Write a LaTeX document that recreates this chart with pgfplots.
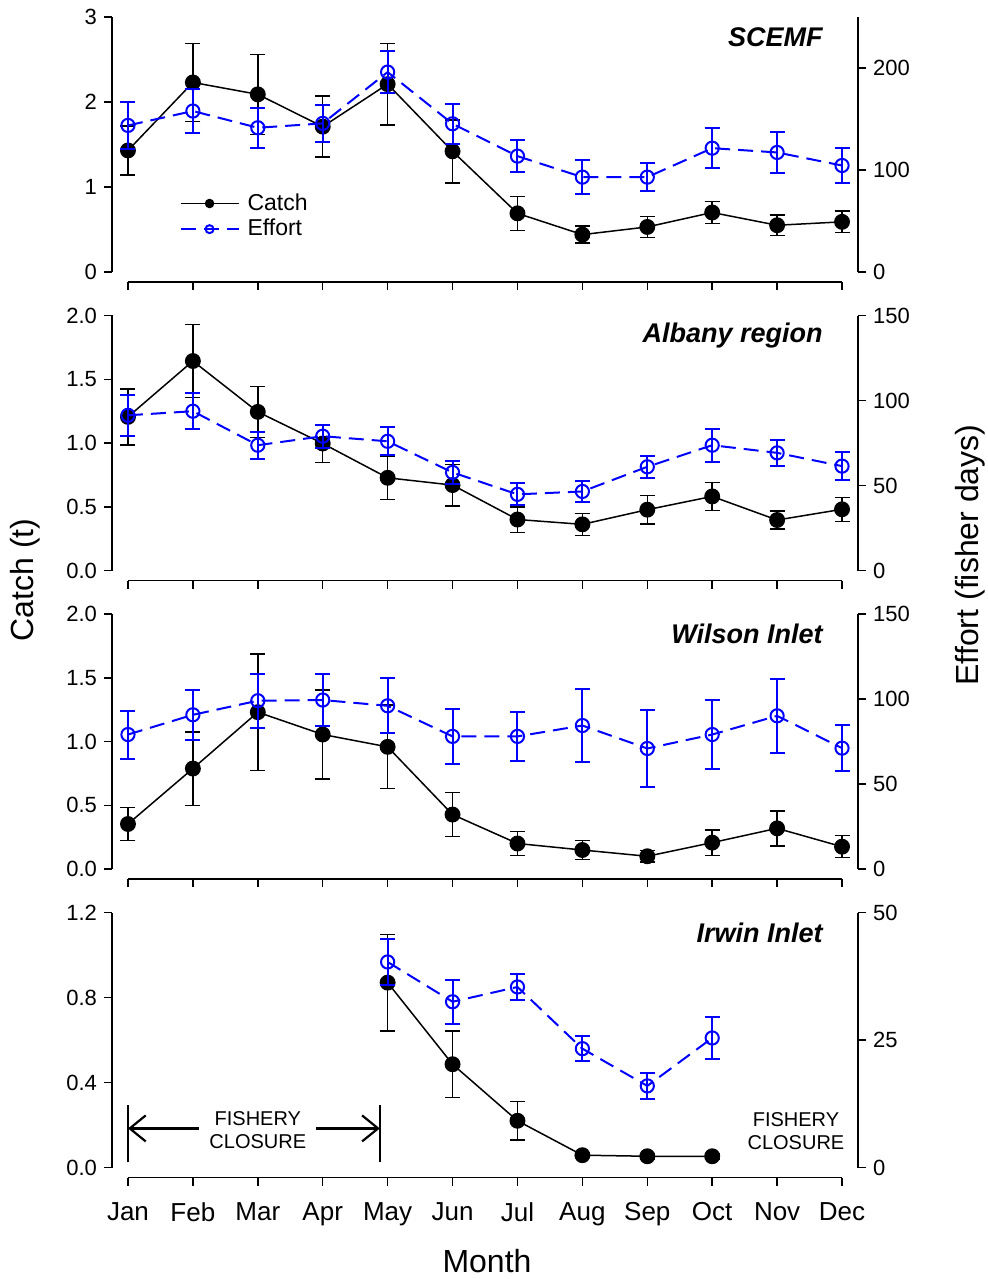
\documentclass[border=0pt]{standalone}
\usepackage{fontspec}
\setmainfont{Liberation Sans}
\usepackage{pgfplots}
\pgfplotsset{compat=1.18}
\usetikzlibrary{arrows.meta}

% 1 px of the reference = 0.5pt
\pgfplotsset{
  base/.style={scale only axis, width=373pt, height=132.5pt,
    xmin=0.754, xmax=12.246, clip=false,
    tick align=outside, major tick length=4pt,
    tick style={black, line width=0.75pt},
    axis line style={draw=none},
    /pgf/number format/assume math mode=true,
    ticklabel style={font=\fontsize{11}{13}\selectfont}},
  leftax/.style={base, axis x line*=bottom, axis y line*=left,
    xtick={1,...,12}, xticklabels={}},
  rightax/.style={base, axis x line=none, axis y line*=right},
  onedec/.style={yticklabel style={/pgf/number format/.cd, fixed, fixed zerofill, precision=1}},
  catchline/.style={black, line width=0.75pt, mark=*, mark size=3.6pt},
  effortline/.style={blue, line width=1pt, dash pattern=on 7.5pt off 4pt,
    mark=o, mark size=3.3pt, mark options={solid}},
  catch/.style={catchline, error bars/.cd, y dir=both, y explicit,
    error bar style={black, line width=0.75pt, solid},
    error mark=-,
    error mark options={rotate=90, black, line width=0.75pt, mark size=3.75pt, solid}},
  effort/.style={effortline, error bars/.cd, y dir=both, y explicit,
    error bar style={blue, line width=1pt, solid},
    error mark=-,
    error mark options={rotate=90, blue, line width=1pt, mark size=3.75pt, solid}},
}
\tikzset{ptitle/.style={anchor=east, font=\fontsize{13.5}{15}\selectfont\bfseries\itshape}}

\begin{document}
\begin{tikzpicture}
\path[use as bounding box] (-56pt,141pt) rectangle (437.5pt,-498.5pt);

% ---------- SCEMF ----------
\begin{axis}[leftax, at={(0pt,0pt)}, ymin=-0.1176, ymax=3, ytick={0,1,2,3},
  legend style={at={(0.082,0.365)}, anchor=north west, draw=none, fill=none,
    font=\fontsize{11.5}{13}\selectfont, row sep=-1pt,
    nodes={inner xsep=4pt}},
  legend cell align=left,
  legend image code/.code={\draw[mark repeat=2, mark phase=2, #1, mark size=2pt]
    plot coordinates {(0pt,0pt) (14.5pt,0pt) (29pt,0pt)};}]
\addplot[catch] coordinates {
 (1,1.43) +- (0,0.29)
 (2,2.23) +- (0,0.46)
 (3,2.09) +- (0,0.47)
 (4,1.71) +- (0,0.36)
 (5,2.21) +- (0,0.48)
 (6,1.42) +- (0,0.37)
 (7,0.69) +- (0,0.20)
 (8,0.44) +- (0,0.10)
 (9,0.53) +- (0,0.125)
 (10,0.70) +- (0,0.13)
 (11,0.55) +- (0,0.12)
 (12,0.59) +- (0,0.125)
};
\addlegendentry{Catch}
\addlegendimage{effortline}
\addlegendentry{Effort}
\node[ptitle] at (rel axis cs:0.962,0.925) {SCEMF};
\draw[line width=0.75pt] (axis cs:1,-0.1176) -- (axis cs:12,-0.1176);
\draw[line width=0.75pt] (axis cs:0.754,0) -- (axis cs:0.754,3);
\end{axis}
\begin{axis}[rightax, at={(0pt,0pt)}, ymin=-9.8, ymax=250, ytick={0,100,200}]
\addplot[effort] coordinates {
 (1,143.7) +- (0,23)
 (2,157.8) +- (0,22)
 (3,141.4) +- (0,19.5)
 (4,145.7) +- (0,18.5)
 (5,196) +- (0,20.5)
 (6,145.3) +- (0,19.6)
 (7,113.6) +- (0,15.4)
 (8,93) +- (0,17)
 (9,93) +- (0,14)
 (10,121.4) +- (0,19.6)
 (11,117.2) +- (0,20.3)
 (12,104.4) +- (0,17)
};
\draw[line width=0.75pt] (axis cs:12.246,0) -- (axis cs:12.246,250);
\end{axis}

% ---------- Albany region ----------
\begin{axis}[leftax, onedec, at={(0pt,-149.25pt)}, ymin=-0.0784, ymax=2, ytick={0,0.5,1,1.5,2}]
\addplot[catch] coordinates {
 (1,1.205) +- (0,0.22)
 (2,1.643) +- (0,0.285)
 (3,1.244) +- (0,0.2)
 (4,0.996) +- (0,0.15)
 (5,0.727) +- (0,0.17)
 (6,0.67) +- (0,0.163)
 (7,0.40) +- (0,0.1)
 (8,0.362) +- (0,0.086)
 (9,0.477) +- (0,0.113)
 (10,0.581) +- (0,0.11)
 (11,0.396) +- (0,0.072)
 (12,0.48) +- (0,0.094)
};
\node[ptitle] at (rel axis cs:0.962,0.925) {Albany region};
\draw[line width=0.75pt] (axis cs:1,-0.0784) -- (axis cs:12,-0.0784);
\draw[line width=0.75pt] (axis cs:0.754,0) -- (axis cs:0.754,2);
\end{axis}
\begin{axis}[rightax, at={(0pt,-149.25pt)}, ymin=-5.88, ymax=150, ytick={0,50,100,150}]
\addplot[effort] coordinates {
 (1,91.3) +- (0,12.2)
 (2,93.7) +- (0,10.5)
 (3,73.7) +- (0,8)
 (4,79) +- (0,6.7)
 (5,76) +- (0,8.2)
 (6,57.7) +- (0,7)
 (7,44.8) +- (0,6.5)
 (8,46.5) +- (0,6.3)
 (9,61) +- (0,6.6)
 (10,73.7) +- (0,9.8)
 (11,69.2) +- (0,7.8)
 (12,61.4) +- (0,8.1)
};
\draw[line width=0.75pt] (axis cs:12.246,0) -- (axis cs:12.246,150);
\end{axis}

% ---------- Wilson Inlet ----------
\begin{axis}[leftax, onedec, at={(0pt,-298.5pt)}, ymin=-0.0784, ymax=2, ytick={0,0.5,1,1.5,2}]
\addplot[catch] coordinates {
 (1,0.353) +- (0,0.13)
 (2,0.788) +- (0,0.288)
 (3,1.23) +- (0,0.457)
 (4,1.055) +- (0,0.35)
 (5,0.958) +- (0,0.327)
 (6,0.427) +- (0,0.173)
 (7,0.2) +- (0,0.093)
 (8,0.149) +- (0,0.073)
 (9,0.1) +- (0,0.045)
 (10,0.207) +- (0,0.1)
 (11,0.319) +- (0,0.137)
 (12,0.175) +- (0,0.086)
};
\node[ptitle] at (rel axis cs:0.962,0.925) {Wilson Inlet};
\draw[line width=0.75pt] (axis cs:1,-0.0784) -- (axis cs:12,-0.0784);
\draw[line width=0.75pt] (axis cs:0.754,0) -- (axis cs:0.754,2);
\end{axis}
\begin{axis}[rightax, at={(0pt,-298.5pt)}, ymin=-5.88, ymax=150, ytick={0,50,100,150}]
\addplot[effort] coordinates {
 (1,79.1) +- (0,14.1)
 (2,90.7) +- (0,14.8)
 (3,99) +- (0,16)
 (4,99.4) +- (0,15.5)
 (5,96) +- (0,16.1)
 (6,78) +- (0,16.3)
 (7,78) +- (0,14.5)
 (8,84.4) +- (0,21.5)
 (9,70.9) +- (0,22.6)
 (10,79.1) +- (0,20.5)
 (11,90.1) +- (0,21.7)
 (12,71.1) +- (0,13.6)
};
\draw[line width=0.75pt] (axis cs:12.246,0) -- (axis cs:12.246,150);
\end{axis}

% ---------- Irwin Inlet ----------
\begin{axis}[leftax, onedec, at={(0pt,-447.75pt)}, ymin=-0.047, ymax=1.2, ytick={0,0.4,0.8,1.2},
  xticklabels={Jan,Feb,Mar,Apr,May,Jun,Jul,Aug,Sep,Oct,Nov,Dec},
  xticklabel style={font=\fontsize{13}{15}\selectfont, yshift=-5pt}]
\addplot[catch] coordinates {
 (5,0.87) +- (0,0.227)
 (6,0.486) +- (0,0.157)
 (7,0.22) +- (0,0.09)
 (8,0.058) +- (0,0.012)
 (9,0.053) +- (0,0.012)
 (10,0.053) +- (0,0.012)
};
\node[ptitle] at (rel axis cs:0.962,0.925) {Irwin Inlet};
\draw[line width=0.75pt] (axis cs:1,-0.047) -- (axis cs:12,-0.047);
\draw[line width=0.75pt] (axis cs:0.754,0) -- (axis cs:0.754,1.2);
% fishery closure annotation
\draw[line width=1pt] (axis cs:1,0.024) -- (axis cs:1,0.293);
\draw[line width=1pt] (axis cs:4.88,0.024) -- (axis cs:4.88,0.293);
\draw[line width=1.1pt, {Straight Barb[length=8pt,width=13pt]}-{Straight Barb[length=8pt,width=13pt]}]
  (axis cs:1,0.184) -- (axis cs:4.88,0.184);
\node[fill=white, align=center, inner xsep=5pt, inner ysep=0pt,
  font=\fontsize{10}{11.5}\selectfont] at (axis cs:3.0,0.175) {FISHERY\\CLOSURE};
\node[align=center, inner sep=0pt, font=\fontsize{10}{11.5}\selectfont]
  at (axis cs:11.29,0.17) {FISHERY\\CLOSURE};
\end{axis}
\begin{axis}[rightax, at={(0pt,-447.75pt)}, ymin=-1.96, ymax=50, ytick={0,25,50}]
\addplot[effort] coordinates {
 (5,40.3) +- (0,4.5)
 (6,32.5) +- (0,4.3)
 (7,35.4) +- (0,2.6)
 (8,23.3) +- (0,2.5)
 (9,16) +- (0,2.6)
 (10,25.4) +- (0,4.1)
};
\draw[line width=0.75pt] (axis cs:12.246,0) -- (axis cs:12.246,50);
\end{axis}

% ---------- outer labels ----------
\node[rotate=90, font=\fontsize{16}{18}\selectfont] at (-43.5pt,-149pt) {Catch (t)};
\node[rotate=90, font=\fontsize{16}{18}\selectfont] at (429pt,-136.5pt) {Effort (fisher days)};
\node[font=\fontsize{16}{18}\selectfont] at (187.5pt,-489.5pt) {Month};
\end{tikzpicture}
\end{document}
